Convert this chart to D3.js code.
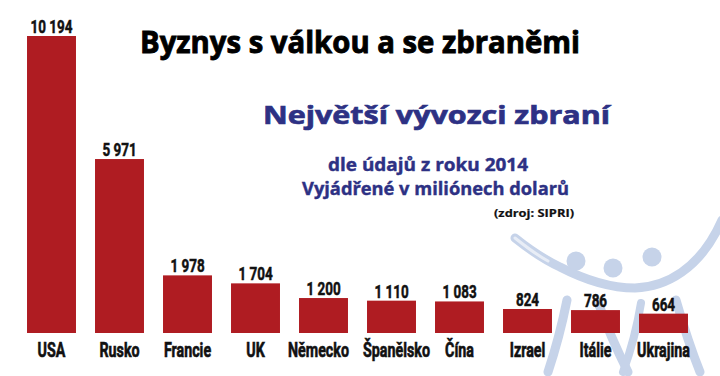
<!DOCTYPE html>
<html>
<head>
<meta charset="utf-8">
<script src="https://cdn.jsdelivr.net/npm/d3@7"></script>
<style>
  body { margin: 0; background: #fff; }
  svg { display: block; }
</style>
</head>
<body>
<svg id="chart" width="720" height="376"></svg>
<script>
// data
const countries = ["USA", "Rusko", "Francie", "UK", "Německo", "Španělsko", "Čína", "Izrael", "Itálie", "Ukrajina"];
const exportsMil = [10194, 5971, 1978, 1704, 1200, 1110, 1083, 824, 786, 664];
const valueLabels = ["10 194", "5 971", "1 978", "1 704", "1 200", "1 110", "1 083", "824", "786", "664"];

const width = 720, height = 376;
const baseY = 333;
const labelFont = "Roboto, 'DejaVu Sans Condensed', sans-serif";
const titleFont = "'Open Sans', 'Noto Sans', sans-serif";
const navy = "#2d3184";
const barColor = "#af1c22";
const logoColor = "#c6d3e9";

const svg = d3.select("#chart");

// faint logo in the background (bottom right)
const logo = svg.append("g")
    .attr("fill", "none")
    .attr("stroke", logoColor)
    .attr("stroke-linecap", "round");

logo.append("path")
    .attr("d", "M515,238 C530,250 545,260 560,267 C585,280 610,288 635,288 C665,287 700,270 722,220")
    .attr("stroke-width", 9);
logo.append("path")
    .attr("d", "M515,238 C525,246 535,254 548,261")
    .attr("stroke", "#fff").attr("stroke-width", 3).attr("stroke-opacity", 0.6);
[[576, 261, 9.5], [613, 268, 9.5], [652, 257, 9.5]].forEach(c => {
    logo.append("circle").attr("cx", c[0]).attr("cy", c[1]).attr("r", c[2])
        .attr("fill", logoColor).attr("stroke", "none");
});
logo.append("path").attr("d", "M567,300 C562,325 556,348 548,372").attr("stroke-width", 9);
logo.append("path").attr("d", "M598,302 C606,325 616,348 628,372").attr("stroke-width", 9);
logo.append("path").attr("d", "M641,303 C637,328 631,350 623,372").attr("stroke-width", 8);
logo.append("path").attr("d", "M676,300 C684,328 692,352 700,372").attr("stroke-width", 9);

// scales
const x = d3.scaleBand()
    .domain(countries)
    .range([17.5, 697.5])
    .paddingInner(0.28)
    .paddingOuter(0.14);

const y = d3.scaleLinear()
    .domain([0, d3.max(exportsMil)])
    .range([baseY, 36]);

const data = countries.map((c, i) => ({ country: c, value: exportsMil[i], label: valueLabels[i] }));

// bars
svg.selectAll("rect.bar")
    .data(data)
    .enter()
    .append("rect")
    .attr("class", "bar")
    .attr("x", d => x(d.country))
    .attr("y", d => y(d.value))
    .attr("width", x.bandwidth())
    .attr("height", d => baseY - y(d.value))
    .attr("fill", barColor);

// value labels
const vals = svg.selectAll("text.value")
    .data(data)
    .enter()
    .append("text")
    .attr("class", "value")
    .attr("text-anchor", "middle")
    .style("font-family", labelFont)
    .style("font-weight", "bold")
    .style("font-size", "17.5px")
    .attr("fill", "#111")
    .attr("stroke", "#111")
    .attr("stroke-width", 0.5)
    .text(d => d.label);

// category labels
const cats = svg.selectAll("text.cat")
    .data(data)
    .enter()
    .append("text")
    .attr("class", "cat")
    .attr("text-anchor", "middle")
    .style("font-family", labelFont)
    .style("font-weight", "bold")
    .style("font-size", "19.5px")
    .attr("fill", "#111")
    .attr("stroke", "#111")
    .attr("stroke-width", 0.6)
    .text(d => d.country);

// squeeze the labels to look like a condensed face
const kVal = 42 / vals.nodes()[0].getComputedTextLength();
const kCat = 67 / cats.nodes()[5].getComputedTextLength();
// the two long names are nudged apart in the original
const nudge = { "Německo": -5, "Španělsko": 5 };
vals.attr("transform", d => `translate(${x(d.country) + x.bandwidth() / 2},${y(d.value) - 3}) scale(${kVal},1)`);
cats.attr("transform", d => `translate(${x(d.country) + x.bandwidth() / 2 + (nudge[d.country] || 0)},357) scale(${kCat},1)`);

// titles
function fitText(txt, x0, x1, yb, size, color, sw) {
    svg.append("text")
        .attr("x", x0)
        .attr("y", yb)
        .attr("textLength", x1 - x0)
        .attr("lengthAdjust", "spacingAndGlyphs")
        .style("font-family", titleFont)
        .style("font-weight", "bold")
        .style("font-size", size + "px")
        .attr("fill", color)
        .attr("stroke", color)
        .attr("stroke-width", sw)
        .text(txt);
}

fitText("Byznys s válkou a se zbraněmi", 140, 580, 53, 30, "#000", 0.9);
fitText("Největší vývozci zbraní", 263, 610, 124, 25, navy, 0.7);
fitText("dle údajů z roku 2014", 328, 528, 171, 17.5, navy, 0.4);
fitText("Vyjádřené v miliónech dolarů", 302, 569, 195, 17.5, navy, 0.4);
fitText("(zdroj: SIPRI)", 494, 574, 217, 10.5, "#111", 0.2);
</script>
</body>
</html>
